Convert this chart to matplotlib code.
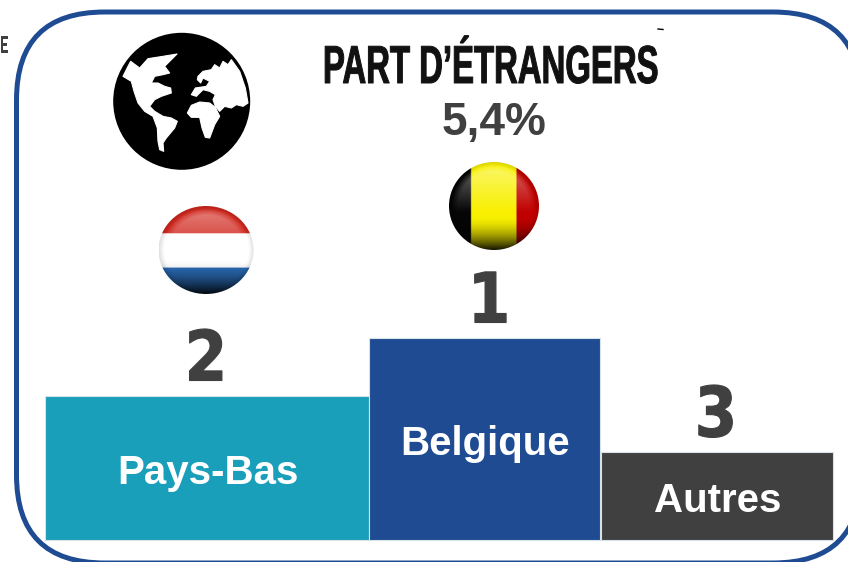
import numpy as np
import matplotlib
matplotlib.use('Agg')
import matplotlib.pyplot as plt
from matplotlib.colors import to_rgb
from matplotlib.patches import Circle, Ellipse, FancyBboxPatch, Polygon
from matplotlib.patheffects import AbstractPathEffect
from matplotlib.transforms import Affine2D

# Donnees du podium
pays = ['Pays-Bas', 'Belgique', 'Autres']
rangs = ['2', '1', '3']
hauteurs = [143.5, 201.5, 87.5]
couleurs = ['#1A9FBA', '#1F4B93', '#404040']
titre = 'PART D\u2019ÉTRANGERS'
valeur = '5,4%'

BLEU = '#1F4B93'
GRIS = '#404040'


# Ecrase le texte horizontalement (pas de police condensee installee)
class Serre(AbstractPathEffect):
    def __init__(self, sx, cx, trait=0):
        super().__init__()
        self.sx = sx
        self.cx = cx
        self.trait = trait

    def draw_path(self, renderer, gc, tpath, affine, rgbFace=None):
        a = affine + Affine2D().translate(-self.cx, 0).scale(self.sx, 1).translate(self.cx, 0)
        gc0 = renderer.new_gc()
        gc0.copy_properties(gc)
        gc0.set_linewidth(self.trait)
        gc0.set_foreground(rgbFace)
        renderer.draw_path(gc0, tpath, a, rgbFace)
        gc0.restore()


def drapeau(ax, cx, cy, rx, ry, image):
    h, w = image.shape[:2]
    yy, xx = np.mgrid[-1:1:h * 1j, -1:1:w * 1j]
    # reflet du haut et assombrissement du bas
    dedans = np.clip((1 - (xx / 0.95) ** 2 - (yy / 0.95) ** 2) / 0.3, 0, 1)
    reflet = dedans * 0.42 * np.clip(0.9 - (yy + 0.85) / 1.1, 0, 1)
    ombre = np.clip((yy - 0.25) / 0.75, 0, 1) ** 1.6 * 0.9
    bord = np.clip((xx ** 2 + yy ** 2 - 0.8) / 0.2, 0, 1) * 0.12
    res = image * (1 - ombre[..., None]) * (1 - bord[..., None])
    res = res + (1 - res) * reflet[..., None]
    im = ax.imshow(res, extent=(cx - rx, cx + rx, cy + ry, cy - ry), aspect='auto',
                   interpolation='bilinear', zorder=3)
    clip = Ellipse((cx, cy), 2 * rx, 2 * ry, transform=ax.transData)
    im.set_clip_path(clip)


fig = plt.figure(figsize=(8.48, 5.62), dpi=100)
ax = fig.add_axes([0, 0, 1, 1])
ax.set_axis_off()

# Cadre arrondi
r = 88
ax.add_patch(FancyBboxPatch((16.5 + r, 12 + r), 844.5 - 2 * r, 551 - 2 * r,
                            boxstyle='round,pad=%d,rounding_size=%d' % (r, r),
                            fc='white', ec=BLEU, lw=3.6, zorder=1))

# Podium
lefts = [45, 369, 600.5]
widths = [324, 231, 232]
rang_x = [206, 489, 716]
base = 539.5
for i in range(3):
    ax.bar(lefts[i], -hauteurs[i], width=widths[i], bottom=base, align='edge',
           color=couleurs[i], edgecolor='#D5E3E8', linewidth=0.8, zorder=2)
    top = base - hauteurs[i]
    ax.text(rang_x[i], top - 35, rangs[i], ha='center', va='center', fontsize=50, color=GRIS,
            family='DejaVu Sans', fontweight='bold', zorder=4,
            path_effects=[Serre(0.88, rang_x[i], 0.8)])

ax.text(208, 473, pays[0], ha='center', va='center', color='white', fontsize=29,
        family='Liberation Sans', fontweight='bold', zorder=4)
ax.text(485.5, 444, pays[1], ha='center', va='center', color='white', fontsize=29,
        family='Liberation Sans', fontweight='bold', zorder=4)
ax.text(718, 501, pays[2], ha='center', va='center', color='white', fontsize=29,
        family='Liberation Sans', fontweight='bold', zorder=4)

# Titre
ax.text(491, 83, titre, ha='center', va='baseline', color='#111111', fontsize=38.5,
        family='Liberation Sans', fontweight='bold', zorder=4,
        path_effects=[Serre(0.615, 491, 0.7)])
ax.text(494.5, 135, valeur, ha='center', va='baseline', color=GRIS, fontsize=33,
        family='Liberation Sans', fontweight='bold', zorder=4)

# Globe
ax.add_patch(Circle((181.7, 101.3), 68.5, fc='black', ec='none', zorder=3))
amerique = [(45, 145), (60, 115), (68, 100), (95, 120), (120, 92), (165, 85), (207, 78), (185, 100),
            (170, 115), (185, 135), (165, 140), (140, 145), (130, 165), (150, 165), (170, 175),
            (188, 180), (190, 195), (160, 205), (140, 215), (125, 235), (140, 250), (165, 265),
            (190, 270), (208, 280), (200, 300), (175, 330), (165, 345), (167, 370), (155, 365),
            (150, 340), (148, 300), (135, 265), (110, 250), (90, 225), (78, 190), (70, 160)]
afrique = [(238, 255), (250, 232), (275, 222), (305, 225), (322, 238), (335, 265), (320, 290),
           (305, 330), (292, 328), (282, 300), (275, 268), (250, 268)]
eurasie = [(270, 145), (285, 130), (310, 125), (320, 110), (335, 120), (345, 100), (360, 110),
           (370, 95), (395, 130), (412, 180), (420, 225), (405, 235), (385, 230), (370, 240),
           (350, 235), (335, 250), (322, 235), (315, 215), (322, 200), (305, 190), (285, 185),
           (265, 205), (250, 200), (262, 180), (295, 175), (305, 160), (285, 150), (278, 165),
           (268, 155)]
for forme in [amerique, afrique, eurasie]:
    pts = [(108 + x / 3, 28 + y / 3) for x, y in forme]
    ax.add_patch(Polygon(pts, closed=True, fc='white', ec='white', lw=0.8, joinstyle='round', zorder=4))

# Drapeaux
n = 200
pb = np.ones((n, n, 3))
pb[:int(n * 0.31)] = to_rgb('#D0281E')
pb[int(n * 0.70):] = to_rgb('#2A6DB8')
drapeau(ax, 206, 250, 47.5, 44, pb)

be = np.ones((n, n, 3))
be[:, :int(n * 0.245)] = (0.02, 0.02, 0.02)
be[:, int(n * 0.245):int(n * 0.75)] = to_rgb('#F8F000')
be[:, int(n * 0.75):] = to_rgb('#C00000')
drapeau(ax, 494, 206, 45, 44, be)

# Restes de la capture
ax.text(0, 53, 'E', ha='left', va='baseline', fontsize=18, color=GRIS,
        family='Liberation Sans', fontweight='bold', zorder=4,
        path_effects=[Serre(0.5, 0)])
ax.plot([658, 663], [29, 29.5], color='black', lw=1, zorder=4)

ax.set_xlim(0, 848)
ax.set_ylim(562, 0)
fig.savefig('out.png', dpi=100)
